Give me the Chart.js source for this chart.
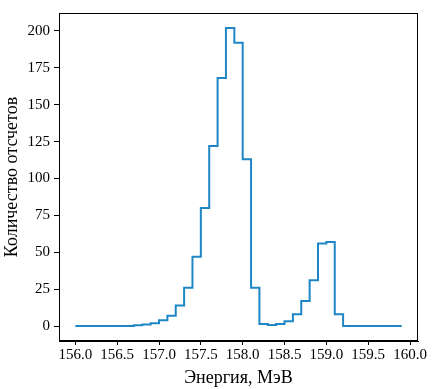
<!DOCTYPE html>
<html>
<head>
<meta charset="utf-8">
<script src="https://cdn.jsdelivr.net/npm/chart.js@4/dist/chart.umd.min.js"></script>
<style>
  html, body { margin: 0; padding: 0; background: #ffffff; }
  #wrap { width: 436px; height: 389px; }
</style>
</head>
<body>
<div id="wrap"><canvas id="c" width="436" height="389"></canvas></div>
<script>
// Left bin edges, MeV (step width 0.1)
const energies = [
  156.0, 156.1, 156.2, 156.3, 156.4, 156.5, 156.6, 156.7, 156.8, 156.9,
  157.0, 157.1, 157.2, 157.3, 157.4, 157.5, 157.6, 157.7, 157.8, 157.9,
  158.0, 158.1, 158.2, 158.3, 158.4, 158.5, 158.6, 158.7, 158.8, 158.9,
  159.0, 159.1, 159.2, 159.3, 159.4, 159.5, 159.6, 159.7, 159.8, 159.9
];
// Counts per bin
const counts = [
  0, 0, 0, 0, 0, 0, 0, 0.5, 1, 2,
  4, 7, 14, 26, 47, 80, 122, 168, 202, 192,
  113, 26, 1.5, 0.7, 1.5, 3.3, 8, 17, 31, 56,
  57, 8, 0, 0, 0, 0, 0, 0, 0, 0
];
const xTicks = [156.0, 156.5, 157.0, 157.5, 158.0, 158.5, 159.0, 159.5, 160.0];
const yTicks = [0, 25, 50, 75, 100, 125, 150, 175, 200];
const xTitle = 'Энергия, МэВ';
const yTitle = 'Количество отсчетов';

const points = energies.map((e, i) => ({ x: e, y: counts[i] }));

const frame = {
  id: 'frame',
  afterDraw(chart) {
    const a = chart.chartArea, ctx = chart.ctx;
    ctx.save();
    ctx.strokeStyle = '#000';
    ctx.lineWidth = 1;
    ctx.strokeRect(Math.round(a.left) + 0.5, Math.round(a.top) + 0.5,
                   Math.round(a.right - a.left) - 1, Math.round(a.bottom - a.top) - 1);
    ctx.restore();
  }
};

const serif = "'Liberation Serif', 'DejaVu Serif', serif";

new Chart(document.getElementById('c'), {
  type: 'line',
  data: {
    datasets: [{
      data: points,
      borderColor: '#1f86c6',
      borderWidth: 2,
      pointRadius: 0,
      fill: false,
      stepped: 'before',
      tension: 0
    }]
  },
  options: {
    responsive: false,
    animation: false,
    devicePixelRatio: 1,
    layout: { padding: { left: 0, top: 6, right: 18, bottom: 0 } },
    plugins: { legend: { display: false }, tooltip: { enabled: false } },
    scales: {
      x: {
        type: 'linear',
        min: 155.805,
        max: 160.095,
        afterBuildTicks: (s) => { s.ticks = xTicks.map(v => ({ value: v })); },
        afterFit: (s) => { s.height = 48; },
        grid: { display: true, drawOnChartArea: false, drawTicks: true, tickLength: 4, color: '#000', lineWidth: 1 },
        border: { display: true, color: '#000', width: 1 },
        ticks: {
          color: '#000', padding: 1, maxRotation: 0, autoSkip: false,
          font: { family: serif, size: 15 },
          callback: (v) => Number(v).toFixed(1)
        },
        title: { display: true, text: xTitle, color: '#000', font: { family: serif, size: 18 }, padding: { top: 0, bottom: 0 } }
      },
      y: {
        type: 'linear',
        min: -10.1,
        max: 212.1,
        afterBuildTicks: (s) => { s.ticks = yTicks.map(v => ({ value: v })); },
        afterFit: (s) => { s.width = 59; },
        grid: { display: true, drawOnChartArea: false, drawTicks: true, tickLength: 5, color: '#000', lineWidth: 1 },
        border: { display: true, color: '#000', width: 1 },
        ticks: {
          color: '#000', padding: 4, autoSkip: false,
          font: { family: serif, size: 15 },
          callback: (v) => String(v)
        },
        title: { display: true, text: yTitle, color: '#000', font: { family: serif, size: 18 }, padding: { top: 1, bottom: 0 } }
      }
    }
  },
  plugins: [frame]
});
</script>
</body>
</html>
